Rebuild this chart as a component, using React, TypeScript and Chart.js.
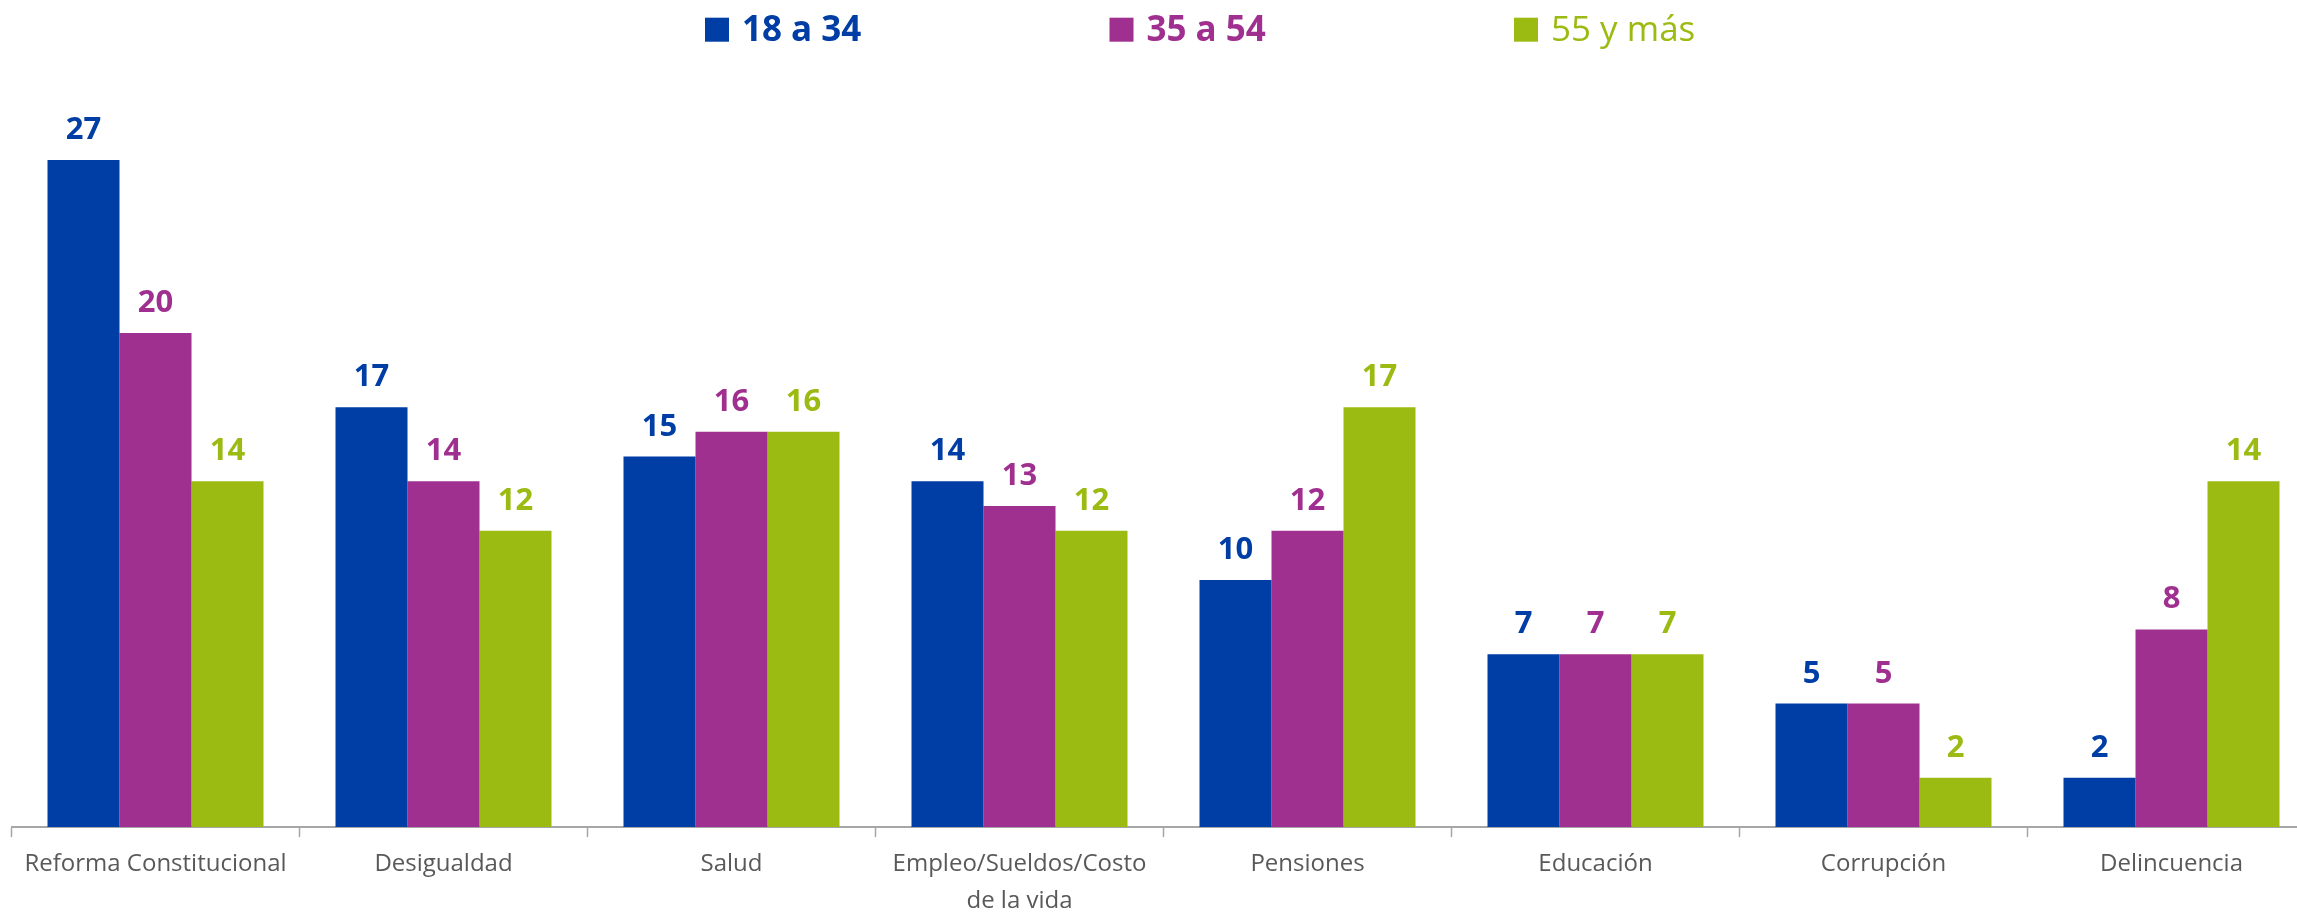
import React, { useEffect, useRef } from "react";
import { Chart, registerables } from "chart.js";

Chart.register(...registerables);

const categories: (string | string[])[] = [
  "Reforma Constitucional",
  "Desigualdad",
  "Salud",
  ["Empleo/Sueldos/Costo", "de la vida"],
  "Pensiones",
  "Educación",
  "Corrupción",
  "Delincuencia",
];
const seriesNames = ["18 a 34", "35 a 54", "55 y más"];
const values18to34 = [27, 17, 15, 14, 10, 7, 5, 2];
const values35to54 = [20, 14, 16, 13, 12, 7, 5, 8];
const values55plus = [14, 12, 16, 12, 17, 7, 2, 14];
const seriesColors = ["#003DA5", "#A0308F", "#9BBB13"];
const legendBold = [true, true, false];

const FONT = "'Open Sans', 'Noto Sans', sans-serif";

const valueLabelPlugin = {
  id: "valueLabels",
  afterDatasetsDraw(chart: any) {
    const ctx = chart.ctx;
    ctx.save();
    ctx.font = `bold 31px ${FONT}`;
    ctx.textAlign = "center";
    ctx.textBaseline = "alphabetic";
    chart.data.datasets.forEach((ds: any, i: number) => {
      const meta = chart.getDatasetMeta(i);
      ctx.fillStyle = ds.backgroundColor;
      meta.data.forEach((bar: any, j: number) => {
        ctx.fillText(String(ds.data[j]), bar.x, bar.y - 21);
      });
    });
    ctx.restore();
  },
};

const legendPlugin = {
  id: "spacedLegend",
  afterDraw(chart: any) {
    const ctx = chart.ctx;
    ctx.save();
    const startX = 705;
    const step = 404.5;
    const boxTop = 17.7;
    const box = 24;
    const baseline = 40.7;
    chart.data.datasets.forEach((ds: any, i: number) => {
      const x = startX + i * step;
      ctx.fillStyle = ds.backgroundColor;
      ctx.fillRect(x, boxTop, box, box);
      ctx.font = `${legendBold[i] ? "bold " : ""}35px ${FONT}`;
      ctx.textAlign = "left";
      ctx.textBaseline = "alphabetic";
      ctx.fillText(ds.label, x + box + 13, baseline);
    });
    ctx.restore();
  },
};

export default function App() {
  const ref = useRef<HTMLCanvasElement | null>(null);

  useEffect(() => {
    if (!ref.current) return;
    const allValues = [values18to34, values35to54, values55plus];
    const chart = new Chart(ref.current, {
      type: "bar",
      data: {
        labels: categories as any,
        datasets: seriesNames.map((name, i) => ({
          label: name,
          data: allValues[i],
          backgroundColor: seriesColors[i],
          borderWidth: 0,
          categoryPercentage: 0.75,
          barPercentage: 1.0,
        })),
      },
      options: {
        responsive: false,
        animation: false,
        layout: { padding: { left: 11.5, right: 14.5, top: 86, bottom: 21 } },
        plugins: {
          legend: { display: false },
          tooltip: { enabled: false },
        },
        scales: {
          x: {
            offset: true,
            grid: {
              display: true,
              offset: true,
              drawOnChartArea: false,
              drawTicks: true,
              tickLength: 10,
              tickColor: "#a6a6a6",
              tickWidth: 1.5,
            },
            border: { display: true, color: "#a6a6a6", width: 2 },
            ticks: {
              color: "#595959",
              font: { family: FONT, size: 24, lineHeight: 1.54 },
              padding: 9,
              maxRotation: 0,
              minRotation: 0,
              autoSkip: false,
            },
          },
          y: {
            display: false,
            min: 0,
            max: 30,
          },
        },
      },
      plugins: [valueLabelPlugin, legendPlugin],
    });
    return () => chart.destroy();
  }, []);

  return (
    <div
      style={{
        position: "fixed",
        left: 0,
        top: 0,
        width: "100vw",
        height: "100vh",
        overflow: "hidden",
        background: "#ffffff",
      }}
    >
      <canvas ref={ref} width={2330} height={950} style={{ display: "block" }} />
    </div>
  );
}
